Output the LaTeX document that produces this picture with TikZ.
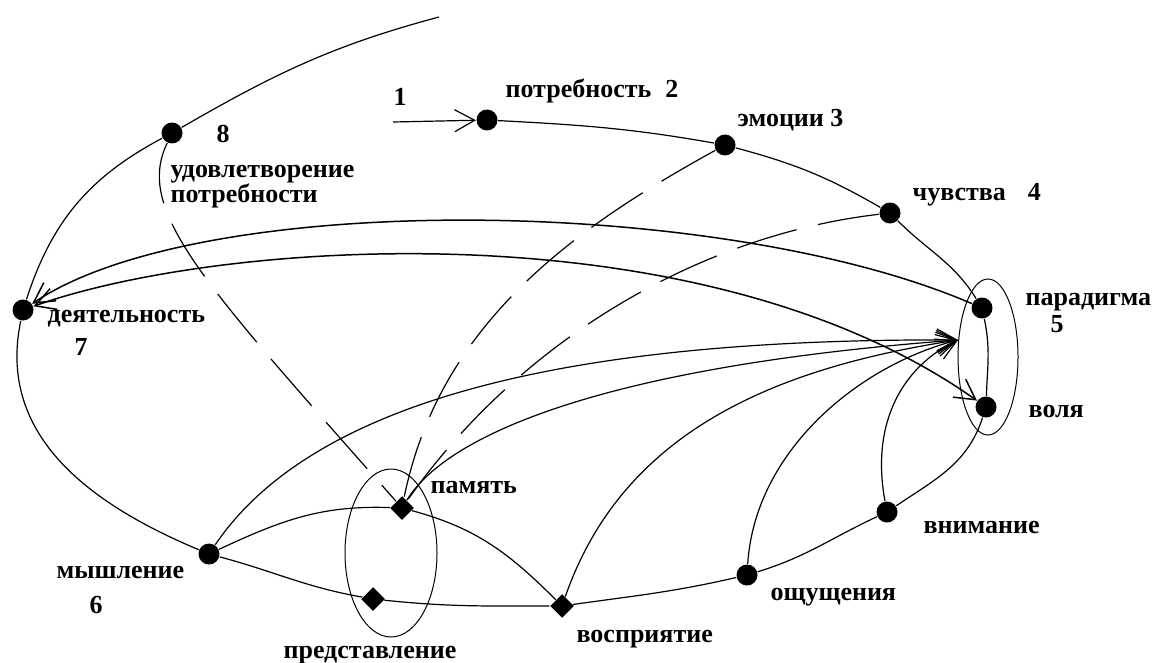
\documentclass[tikz,border=0pt]{standalone}
\usepackage{fontspec}
\setmainfont{Liberation Serif}
\usetikzlibrary{arrows.meta,shapes.geometric}
\begin{document}
\begin{tikzpicture}[x=1pt,y=1pt,line width=1.2pt,
  dot/.style={circle,fill,inner sep=0pt,minimum size=21pt},
  ddot/.style={diamond,fill,inner sep=0pt,minimum size=24pt},
  lbl/.style={font=\bfseries\fontsize{26}{25}\selectfont,inner sep=0pt,anchor=base west},
  num/.style={font=\bfseries\fontsize{26}{25}\selectfont,inner sep=0pt,anchor=base},
  arr/.style={-{Straight Barb[length=20pt,width=22pt]}},
  arrs/.style={{Straight Barb[length=20pt,width=22pt]}-{Straight Barb[length=20pt,width=22pt]}},
  brk/.style={dash pattern=on 62pt off 22pt}]
\useasboundingbox (0,0) rectangle (1155,-663);

% points
\node[dot] (need) at (487,-120) {};
\node[dot] (emo) at (725,-145) {};
\node[dot] (feel) at (890,-213) {};
\node[dot] (par) at (982,-308) {};
\node[dot] (will) at (986,-407) {};
\node[dot] (att) at (887,-512) {};
\node[dot] (sens) at (747,-575) {};
\node[ddot] (perc) at (562,-606) {};
\node[ddot] (repr) at (373,-599) {};
\node[ddot] (mem) at (402,-508) {};
\node[dot] (think) at (209,-554) {};
\node[dot] (act) at (23,-310) {};
\node[dot] (sat) at (172,-133) {};
\coordinate (conv) at (958,-340);
\coordinate (in1) at (393,-122);
\coordinate (top) at (439,-17);

\draw[line width=1pt] (391,-553) ellipse [x radius=46pt,y radius=84pt];
\draw[line width=1pt] (988,-357) ellipse [x radius=30pt,y radius=78pt];

% spiral
\draw[arr] (in1) -- (need);
\draw (need) to[out=-3,in=170] (emo) to[out=-15,in=150] (feel)
  to[out=-45,in=122] (par) to[out=-78,in=88] (will) to[out=-108,in=34] (att)
  to[out=-155,in=17] (sens) to[out=-167,in=8] (perc) to[out=180,in=-6] (repr)
  to[out=170,in=-15] (think) .. controls (80,-500) and (-2,-430) .. (act)
  to[out=72,in=-152] (sat) to[out=30,in=-165] (top);

\draw (think) to[out=25,in=178] (mem) to[out=-15,in=135] (perc);
\draw[arr] (think) .. controls (320,-390) and (600,-338) .. (conv);
\draw[arr] (mem) .. controls (450,-430) and (620,-365) .. (conv);
\draw[arr] (perc) .. controls (620,-440) and (760,-370) .. (conv);
\draw[arr] (sens) .. controls (755,-450) and (860,-365) .. (conv);
\draw[arr] (att) .. controls (870,-420) and (905,-365) .. (conv);
\draw[arr,line width=1.5pt] (par) .. controls (720,-195) and (200,-190) .. (act);
\draw[arrs,line width=1.5pt] (act) .. controls (220,-240) and (700,-205) .. (will);

\draw[brk] (sat) .. controls (135,-210) and (200,-280) .. (mem);
\draw[brk] (emo) .. controls (580,-225) and (440,-320) .. (mem);
\draw[brk] (feel) .. controls (700,-235) and (520,-340) .. (mem);

% labels
\node[num] (n1) at (400,-106) {1};
\node[lbl] (need-l) at (505,-98) {потребность\hspace{14pt}2};
\node[lbl] (emo-l) at (737,-127) {эмоции 3};
\node[lbl] (feel-l) at (912,-200) {чувства\hspace{22pt}4};
\node[lbl] (par-l) at (1025,-305) {парадигма};
\node[num] (n5) at (1057,-332) {5};
\node[lbl] (will-l) at (1028,-417) {воля};
\node[lbl] (att-l) at (923,-533) {внимание};
\node[lbl] (sens-l) at (770,-600) {ощущения};
\node[lbl] (perc-l) at (576,-642) {восприятие};
\node[lbl] (repr-l) at (283,-658) {представление};
\node[lbl] (mem-l) at (430,-493) {память};
\node[lbl] (think-l) at (56,-578) {мышление};
\node[num] (n6) at (96,-613) {6};
\node[lbl] (act-l) at (47,-322) {деятельность};
\node[num] (n7) at (81,-355) {7};
\node[num] (n8) at (223,-143) {8};
\node[lbl] (sat-l) at (170,-177) {удовлетворение};
\node[lbl] (sat-l2) at (170,-202) {потребности};
\end{tikzpicture}
\end{document}
